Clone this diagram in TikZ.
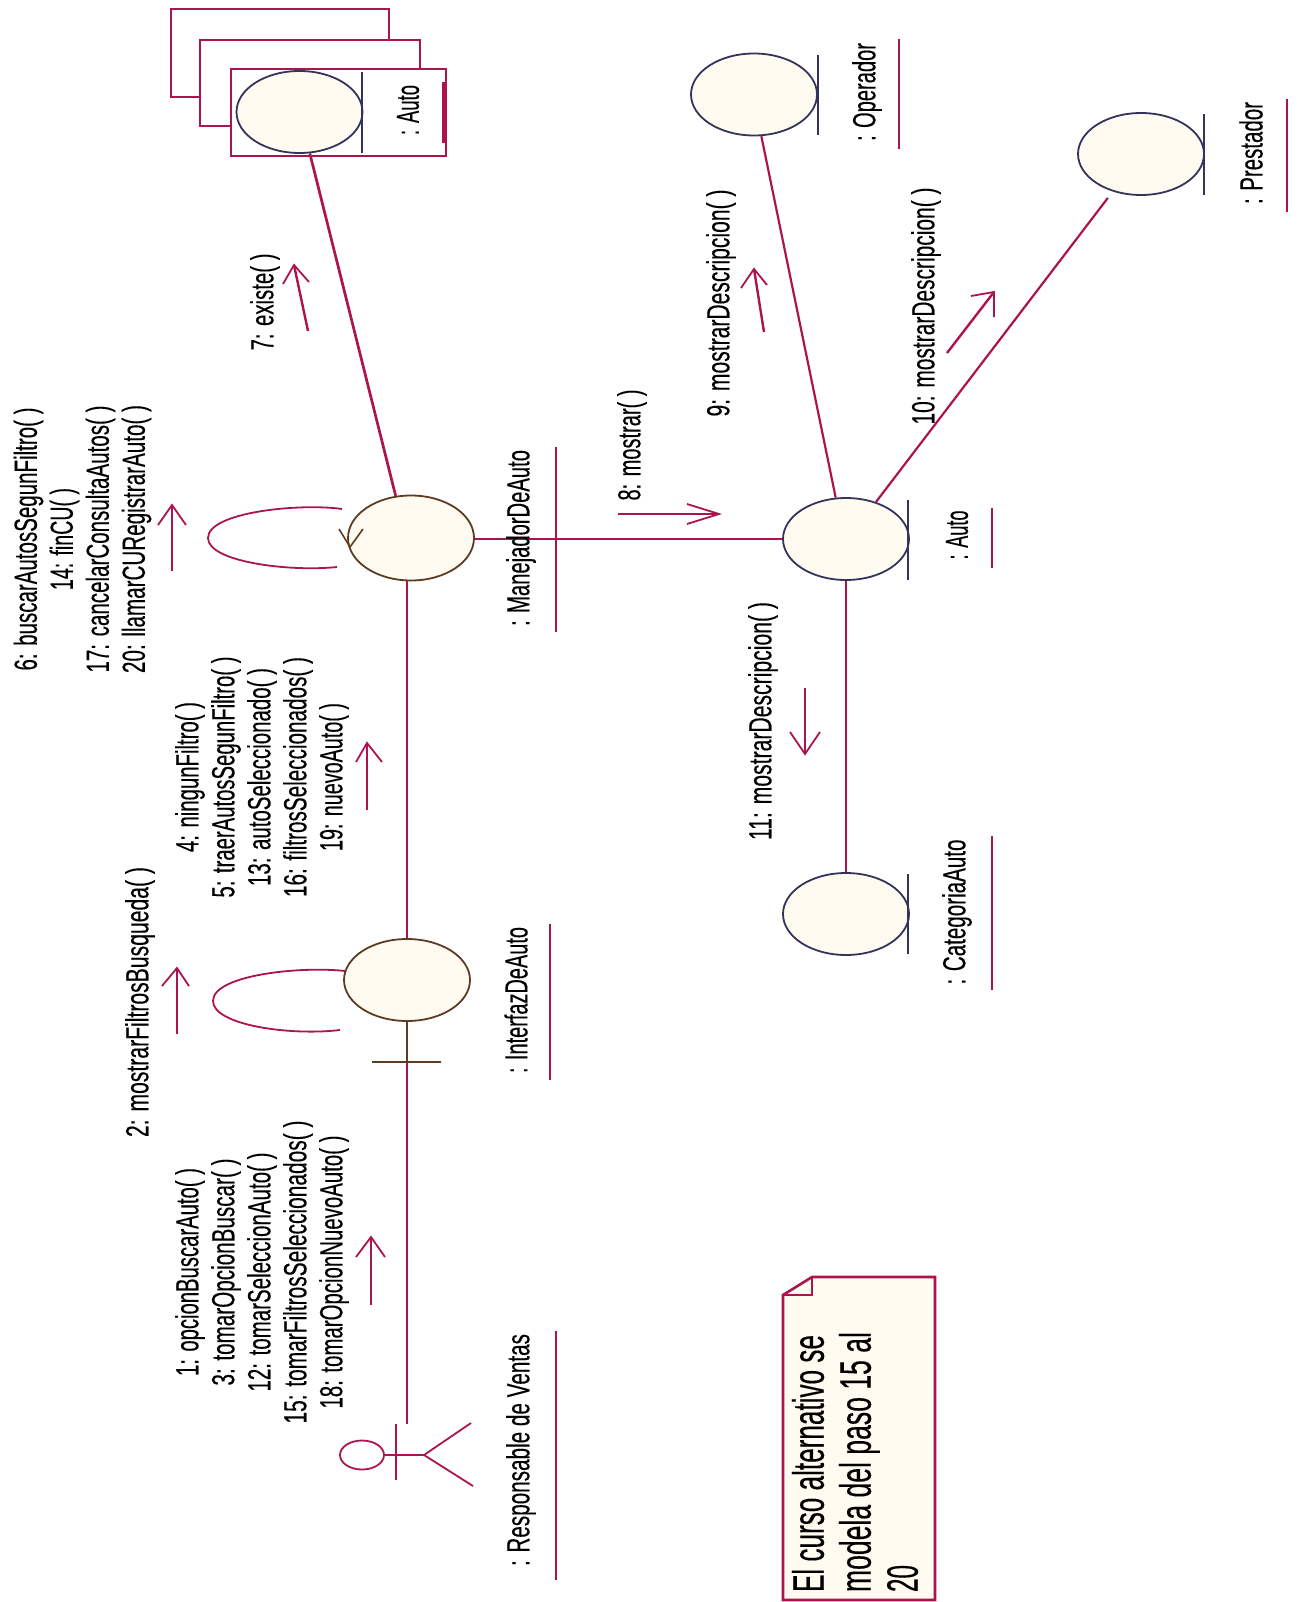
\documentclass[tikz,border=0pt]{standalone}
\usepackage{fontspec}
\usepackage{graphicx}
\setmainfont[FakeBold=0.35]{Liberation Sans}
\usetikzlibrary{shapes.geometric}
\definecolor{crim}{HTML}{AC1450}
\definecolor{navyl}{HTML}{33345C}
\definecolor{brownl}{HTML}{5C3C22}
\definecolor{cream}{HTML}{FFFBF0}
\newcommand{\fl}[2]{\resizebox{#1pt}{\height}{#2}}
\tikzset{
  link/.style={draw=crim,line width=2.7pt},
  thin link/.style={draw=crim,line width=1.8pt},
  msg/.style={draw=crim,line width=2.4pt},
  wing/.style={draw=crim,line width=1.8pt},
  obj/.style={ellipse,draw=navyl,fill=cream,line width=1.8pt,inner sep=0pt,minimum width=126pt,minimum height=82pt},
  ctl/.style={obj,draw=brownl},
  lab/.style={rotate=90,inner sep=0pt,font=\fontsize{32}{36}\selectfont,align=center,text=black},
  notetxt/.style={rotate=90,inner sep=0pt,font=\fontsize{44}{47}\selectfont,align=left,text=black},
  bar/.style={draw=navyl,line width=2.2pt},
  under/.style={draw=crim,line width=2.4pt},
  stack/.style={draw=crim,line width=2.4pt,fill=white}
}
\begin{document}
\begin{tikzpicture}[x=1pt,y=-1pt]
\useasboundingbox (0,0) rectangle (1299,1602);
% stacked instances
\draw[stack] (171,9) rectangle (389,97);
\draw[stack] (200,40) rectangle (420,126);
\node[draw=crim,line width=2.4pt,fill=white,inner sep=0pt,minimum width=215pt,minimum height=87pt] (front) at (338.5,112.5) {};
% objects
\node[obj] (autos) at (299.5,112) {};
\node[ctl,minimum height=85pt] (man) at (411,538) {};
\node[ctl] (intf) at (407,980) {};
\node[obj] (auto) at (846,539) {};
\node[obj] (cat) at (846,914) {};
\node[obj] (oper) at (754,94.5) {};
\node[obj] (prest) at (1141,154) {};
\node[ellipse,draw=crim,line width=1.8pt,inner sep=0pt,minimum width=44pt,minimum height=29pt] (actor) at (362,1455) {};
% coordinates
\coordinate (stem) at (407,1062);
\coordinate (actortop) at (407,1424);
\coordinate (hip) at (424,1455);
% links
\draw[link] (auto.west) -- (auto.west -| man.east);
\draw[link] (man.110) -- (autos.-76);
\draw[link] (intf.north) -- (intf.north |- man.south);
\draw[link] (auto) -- (cat);
\draw[link,line width=2.2pt] (auto.104) -- (oper.-80);
\draw[link,line width=2.2pt,shorten >=8pt] (auto.51) -- (prest.-127);
\draw[link] (stem) -- (actortop);
\draw[draw=brownl,line width=2.6pt] (intf.south) -- (stem);
\draw[draw=brownl,line width=1.8pt] (372,1062) -- (441,1062);
% bars
\draw[bar] (362,72) -- (362,153);
\draw[bar] (908,500) -- (908,580);
\draw[bar] (908,874) -- (908,954);
\draw[bar] (818,55) -- (818,135);
\draw[bar] (1204,114) -- (1204,195);
% actor
\draw[thin link] (actor) -- (hip);
\draw[thin link,line width=2.2pt] (396,1424) -- (396,1480);
\draw[thin link] (471,1423) -- (hip) -- (473,1486);
% self loops
\draw[thin link] (342,509) .. controls (300,503) and (208,512) .. (208,538) .. controls (208,562) and (290,572) .. (337,567);
\draw[thin link] (345,971) .. controls (300,966) and (213,975) .. (213,1001) .. controls (213,1025) and (290,1036) .. (340,1030);
\draw[draw=brownl,line width=1.6pt] (339,529) -- (350,547) -- (363,529);
% labels
\node[lab] (lauto2) at (408,110) {\fl{50}{: Auto}};
\draw[under,line width=3.4pt] (444,82) -- (444,143);
\node[lab] (lman) at (521,538) {\fl{176}{: ManejadorDeAuto}};
\draw[under] (556,447) -- (556,632);
\node[lab] (lint) at (516,1000) {\fl{146}{: InterfazDeAuto}};
\draw[under] (550,924) -- (550,1080);
\node[lab] (lact) at (521,1450) {\fl{232}{: Responsable de Ventas}};
\draw[under] (556,1331) -- (556,1580);
\node[lab] (lauto) at (957,535) {\fl{49}{: Auto}};
\draw[under] (992,508) -- (992,568);
\node[lab] (lcat) at (957,912) {\fl{145}{: CategoriaAuto}};
\draw[under] (992,836) -- (992,990);
\node[lab] (lop) at (867,92) {\fl{98}{: Operador}};
\draw[under] (899,39) -- (899,149);
\node[lab] (lpre) at (1251,153) {\fl{102}{: Prestador}};
\draw[under] (1287,99) -- (1287,212);
% message labels
\node[lab] (m6) at (82.5,539) {\fl{263}{6: buscarAutosSegunFiltro( )}\\\fl{102}{14: finCU( )}\\\fl{267}{17: cancelarConsultaAutos( )}\\\fl{268}{20: llamarCURegistrarAuto( )}};
\node[lab] (m4) at (262,777) {\fl{150}{4: ningunFiltro( )}\\\fl{241}{5: traerAutosSegunFiltro( )}\\\fl{218}{13: autoSeleccionado( )}\\\fl{240}{16: filtrosSeleccionados( )}\\\fl{148}{19: nuevoAuto( )}};
\node[lab] (m2) at (140,1002) {\fl{270}{2: mostrarFiltrosBusqueda( )}};
\node[lab] (m1) at (262,1272) {\fl{208}{1: opcionBuscarAuto( )}\\\fl{227}{3: tomarOpcionBuscar( )}\\\fl{239}{12: tomarSeleccionAuto( )}\\\fl{303}{15: tomarFiltrosSeleccionados( )}\\\fl{273}{18: tomarOpcionNuevoAuto( )}};
\node[lab] (m7) at (265,302) {\fl{97}{7: existe( )}};
\node[lab] (m8) at (632,445) {\fl{111}{8: mostrar( )}};
\node[lab] (m9) at (721,303) {\fl{227}{9: mostrarDescripcion( )}};
\node[lab] (m10) at (926,306) {\fl{237}{10: mostrarDescripcion( )}};
\node[lab] (m11) at (763,721) {\fl{238}{11: mostrarDescripcion( )}};
% message arrows
\draw[msg] (172,571) -- (172,505);
\draw[wing] (158,525) -- (172,505) -- (186,525);
\draw[msg] (177,1034) -- (177,968);
\draw[wing] (162,986) -- (177,968) -- (189,986);
\draw[msg] (371,1305) -- (371,1237);
\draw[wing] (356,1257) -- (371,1237) -- (385,1257);
\draw[msg] (367,810) -- (367,743);
\draw[wing] (356,762) -- (367,743) -- (382,762);
\draw[msg] (308,331) -- (294,265);
\draw[wing] (283,284) -- (294,265) -- (309,282);
\draw[msg] (618,514) -- (719,514);
\draw[wing] (687,504) -- (719,514) -- (687,524);
\draw[msg] (764,332) -- (754,269);
\draw[wing] (741,288) -- (754,269) -- (767,285);
\draw[msg] (947,353) -- (994,292);
\draw[wing] (971,296) -- (994,292) -- (994,317);
\draw[msg] (805,688) -- (805,754);
\draw[wing] (790,732) -- (805,754) -- (820,732);
% note
\path[draw=crim,fill=cream,line width=2.6pt] (812,1277) -- (935,1277) -- (935,1600) -- (783,1600) -- (783,1295) -- cycle;
\path[draw=crim,line width=2.2pt] (812,1277) -- (812,1295) -- (783,1295);
\node[notetxt] (note) at (855,1462) {\fl{257}{El curso alternativo se}\\\fl{260}{modela del paso 15 al}\\\fl{27}{20}};
\end{tikzpicture}
\end{document}
